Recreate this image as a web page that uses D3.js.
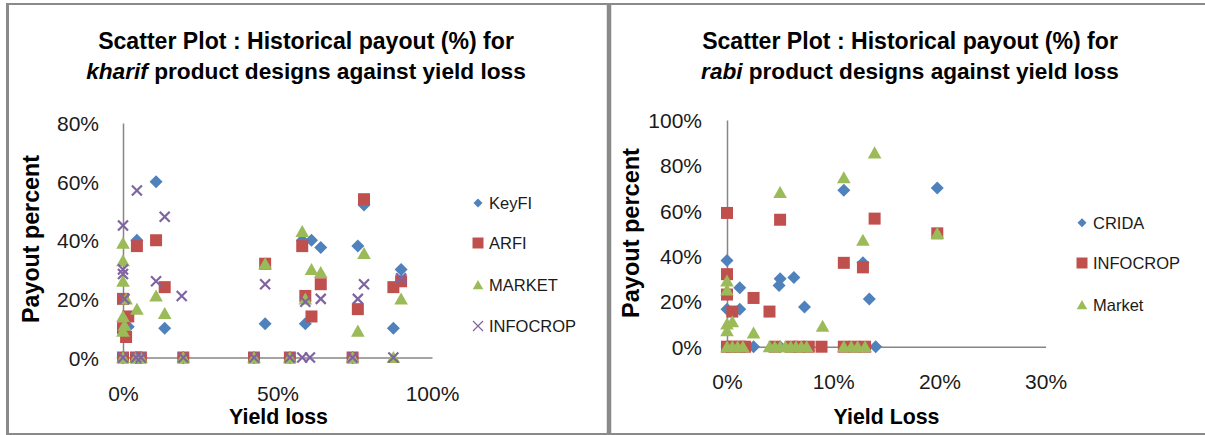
<!DOCTYPE html>
<html><head><meta charset="utf-8">
<script src="https://cdn.jsdelivr.net/npm/d3@7/dist/d3.min.js"></script>
<style>html,body{margin:0;padding:0;background:#fff;}svg{display:block;}</style>
</head><body>
<svg id="chart" width="1205" height="435"></svg>
<script>
// ---------- DATA ----------
// Left chart: kharif  [yield loss, payout]
const kharifSeriesNames = ["KeyFI", "ARFI", "MARKET", "INFOCROP"];
const kharifKeyFI = [[0.107,0.60],[0.045,0.40],[0.017,0.105],[0.135,0.10],[0.78,0.52],[0.58,0.40],[0.61,0.40],[0.64,0.375],[0.76,0.38],[0.90,0.30],[0.46,0.115],[0.59,0.115],[0.875,0.10],
  [0,0],[0.042,0],[0.058,0],[0.195,0],[0.424,0],[0.54,0],[0.743,0]];
const kharifARFI = [[0.107,0.40],[0.045,0.38],[0.135,0.24],[0,0.20],[0.017,0.14],[0,0.10],[0.01,0.07],[0.78,0.54],[0.58,0.38],[0.46,0.32],[0.64,0.25],[0.90,0.26],[0.875,0.24],[0.59,0.21],[0.61,0.14],[0.76,0.165],
  [0,0],[0.042,0],[0.058,0],[0.195,0],[0.424,0],[0.54,0],[0.743,0]];
const kharifMARKET = [[0,0.39],[0,0.33],[0,0.26],[0.107,0.21],[0.01,0.20],[0.045,0.165],[0,0.14],[0.135,0.15],[0.005,0.11],[0,0.09],[0.58,0.43],[0.78,0.355],[0.46,0.32],[0.61,0.30],[0.64,0.29],[0.59,0.20],[0.90,0.20],[0.76,0.09],
  [0,0],[0.042,0],[0.058,0],[0.195,0],[0.424,0],[0.54,0],[0.743,0],[0.875,0]];
const kharifINFOCROP = [[0.045,0.57],[0.135,0.48],[0,0.45],[0,0.30],[0,0.285],[0.107,0.26],[0.19,0.21],[0.005,0.20],[0.46,0.25],[0.78,0.25],[0.90,0.27],[0.59,0.19],[0.64,0.20],[0.76,0.20],
  [0,0],[0.042,0],[0.058,0],[0.195,0],[0.424,0],[0.54,0],[0.58,0],[0.605,0],[0.743,0],[0.875,0]];
const kharifXTicks = [0, 0.5, 1.0];
const kharifYTicks = [0, 0.2, 0.4, 0.6, 0.8];

// Right chart: rabi  [yield loss, payout]
const rabiSeriesNames = ["CRIDA", "INFOCROP", "Market"];
const rabiCRIDA = [[0.11,0.69],[0.198,0.70],[0,0.38],[0.012,0.26],[0.05,0.30],[0.049,0.27],[0.063,0.305],[0.128,0.37],[0,0.165],[0.012,0.165],[0.073,0.175],[0.134,0.21],
  [0,0],[0.025,0],[0.05,0],[0.14,0]];
const rabiINFOCROP = [[0,0.59],[0.05,0.56],[0.139,0.565],[0,0.32],[0,0.23],[0.11,0.37],[0.128,0.35],[0.198,0.50],[0.025,0.215],[0.04,0.155],[0.005,0.155],
  [0,0],[0.005,0],[0.012,0],[0.017,0],[0.045,0],[0.06,0],[0.068,0],[0.077,0],[0.089,0],[0.11,0],[0.12,0],[0.13,0]];
const rabiMarket = [[0.11,0.745],[0.139,0.855],[0.05,0.68],[0.128,0.47],[0.198,0.50],[0,0.29],[0,0.25],[0,0.10],[0.005,0.11],[0,0.07],[0.025,0.06],[0.09,0.09],
  [0,0],[0.005,0],[0.01,0],[0.015,0],[0.04,0],[0.045,0],[0.05,0],[0.055,0],[0.06,0],[0.065,0],[0.07,0],[0.075,0],[0.11,0],[0.117,0],[0.123,0],[0.13,0]];
const rabiXTicks = [0, 0.1, 0.2, 0.3];
const rabiYTicks = [0, 0.2, 0.4, 0.6, 0.8, 1.0];

// ---------- STYLE ----------
const COLORS = {blue:"#4F81BD", red:"#C0504D", green:"#9BBB59", purple:"#8064A2"};
const FONT = "'Liberation Sans', Arial, sans-serif";

const svg = d3.select("#chart");

// frame
const frame = svg.append("g").attr("fill","none").attr("stroke","#8a8a8a");
frame.append("line").attr("x1",6).attr("x2",1205).attr("y1",4).attr("y2",4).attr("stroke-width",2);
frame.append("line").attr("x1",7.5).attr("x2",7.5).attr("y1",3).attr("y2",435).attr("stroke-width",3);
frame.append("line").attr("x1",6).attr("x2",1205).attr("y1",434).attr("y2",434).attr("stroke-width",2);
frame.append("line").attr("x1",609).attr("x2",609).attr("y1",3).attr("y2",435).attr("stroke-width",4.5);

// marker path generators
function markerPath(shape, s) {
  const p = d3.path();
  if (shape === "diamond") { p.moveTo(0,-s); p.lineTo(s,0); p.lineTo(0,s); p.lineTo(-s,0); p.closePath(); }
  else if (shape === "square") { p.rect(-s,-s,2*s,2*s); }
  else if (shape === "triangle") { p.moveTo(0,-s); p.lineTo(s*1.05,s*0.85); p.lineTo(-s*1.05,s*0.85); p.closePath(); }
  else if (shape === "x") { p.moveTo(-s,-s); p.lineTo(s,s); p.moveTo(s,-s); p.lineTo(-s,s); }
  return p.toString();
}
function drawMarker(g, shape, color, x, y, s, xStroke) {
  const el = g.append("path").attr("d", markerPath(shape, s)).attr("transform", `translate(${x},${y})`);
  if (shape === "x") el.attr("fill","none").attr("stroke",color).attr("stroke-width",xStroke);
  else el.attr("fill",color).attr("stroke","none");
}

function fitText(sel, target) {
  const w = sel.node().getComputedTextLength();
  const fs = parseFloat(sel.attr("font-size"));
  sel.attr("font-size", fs * target / w);
}

function drawChart(cfg) {
  const g = svg.append("g");
  const x = d3.scaleLinear().domain(cfg.xDomain).range(cfg.xRange);
  const y = d3.scaleLinear().domain(cfg.yDomain).range(cfg.yRange);

  // title
  cfg.title.forEach((parts, i) => {
    const t = g.append("text").attr("x", cfg.titleX).attr("y", cfg.titleY[i])
      .attr("text-anchor","middle").attr("font-family",FONT).attr("font-weight","bold")
      .attr("font-size",18).attr("fill","#000");
    parts.forEach(p => t.append("tspan").attr("font-style", p.italic ? "italic" : "normal").text(p.text));
    fitText(t, cfg.titleW[i]);
  });

  // axes lines via d3 axes (no tick marks)
  const xAxis = d3.axisBottom(x).tickValues(cfg.xTicks).tickSize(0).tickFormat(d3.format(".0%"));
  const yAxis = d3.axisLeft(y).tickValues(cfg.yTicks).tickSize(0).tickFormat(d3.format(".0%"));
  const gx = g.append("g").attr("transform", `translate(0,${cfg.yRange[0]})`).call(xAxis);
  gx.select(".domain").attr("stroke","#868686").attr("stroke-width",1.5);
  gx.selectAll(".tick text").attr("font-family",FONT).attr("font-size",21).attr("fill","#1a1a1a")
    .attr("dy",0).attr("y", cfg.xTickLabelY - cfg.yRange[0]).attr("dominant-baseline","central");
  const gy = g.append("g").attr("transform", `translate(${cfg.xRange[0]},0)`).call(yAxis);
  gy.select(".domain").attr("stroke","#868686").attr("stroke-width",1.5);
  gy.selectAll(".tick text").attr("font-family",FONT).attr("font-size",21).attr("fill","#1a1a1a")
    .attr("x", -cfg.yTickGap).attr("dy",0).attr("dominant-baseline","central");

  // axis titles
  const xt = g.append("text").attr("x", cfg.xTitleX).attr("y", cfg.xTitleY).attr("text-anchor","middle")
    .attr("dominant-baseline","central").attr("font-family",FONT).attr("font-weight","bold")
    .attr("font-size",21).attr("fill","#000").text(cfg.xTitle);
  fitText(xt, cfg.xTitleW);
  const yt = g.append("text").attr("transform", `translate(${cfg.yTitleX},${cfg.yTitleY}) rotate(-90)`)
    .attr("text-anchor","middle").attr("dominant-baseline","central").attr("font-family",FONT)
    .attr("font-weight","bold").attr("font-size",22).attr("fill","#000").text(cfg.yTitle);
  fitText(yt, cfg.yTitleW);

  // points
  const pg = g.append("g");
  cfg.series.forEach(s => {
    s.data.forEach(d => drawMarker(pg, s.shape, s.color, x(d[0]), y(d[1]), s.size, 2.2));
  });

  // legend
  const lg = g.append("g");
  cfg.series.forEach((s, i) => {
    const ly = cfg.legendY[i];
    drawMarker(lg, s.shape, s.color, cfg.legendX, ly, s.legendSize, 1.2);
    lg.append("text").attr("x", cfg.legendX + 11).attr("y", ly).attr("dominant-baseline","central")
      .attr("font-family",FONT).attr("font-size",16.5).attr("fill","#1a1a1a").text(s.name);
  });
}

drawChart({
  xDomain:[0,1], xRange:[123,432], yDomain:[0,0.8], yRange:[357.5,123],
  xTicks: kharifXTicks, yTicks: kharifYTicks,
  title:[[{text:"Scatter Plot : Historical payout (%) for"}],[{text:"kharif",italic:true},{text:" product designs against yield loss"}]],
  titleX:306, titleY:[49,79], titleW:[416,440],
  xTickLabelY:393, yTickGap:24,
  xTitle:"Yield loss", xTitleX:278.5, xTitleY:417, xTitleW:99,
  yTitle:"Payout percent", yTitleX:31, yTitleY:239, yTitleW:168,
  legendX:478, legendY:[203,243,285,326],
  series:[
    {name:kharifSeriesNames[0], data:kharifKeyFI, shape:"diamond", color:COLORS.blue, size:6.5, legendSize:4.5},
    {name:kharifSeriesNames[1], data:kharifARFI, shape:"square", color:COLORS.red, size:6, legendSize:5.5},
    {name:kharifSeriesNames[2], data:kharifMARKET, shape:"triangle", color:COLORS.green, size:6.5, legendSize:5},
    {name:kharifSeriesNames[3], data:kharifINFOCROP, shape:"x", color:COLORS.purple, size:5, legendSize:5}
  ]
});

drawChart({
  xDomain:[0,0.3], xRange:[727,1045.6], yDomain:[0,1], yRange:[346.7,120],
  xTicks: rabiXTicks, yTicks: rabiYTicks,
  title:[[{text:"Scatter Plot : Historical payout (%) for"}],[{text:"rabi",italic:true},{text:" product designs against yield loss"}]],
  titleX:910, titleY:[49,79], titleW:[416,418],
  xTickLabelY:381.7, yTickGap:25,
  xTitle:"Yield Loss", xTitleX:886.5, xTitleY:416.7, xTitleW:106,
  yTitle:"Payout percent", yTitleX:631, yTitleY:233, yTitleW:170,
  legendX:1082, legendY:[222.7,263,305],
  series:[
    {name:rabiSeriesNames[0], data:rabiCRIDA, shape:"diamond", color:COLORS.blue, size:6.5, legendSize:4.5},
    {name:rabiSeriesNames[1], data:rabiINFOCROP, shape:"square", color:COLORS.red, size:6, legendSize:5.5},
    {name:rabiSeriesNames[2], data:rabiMarket, shape:"triangle", color:COLORS.green, size:6.5, legendSize:5}
  ]
});
</script>
</body></html>
